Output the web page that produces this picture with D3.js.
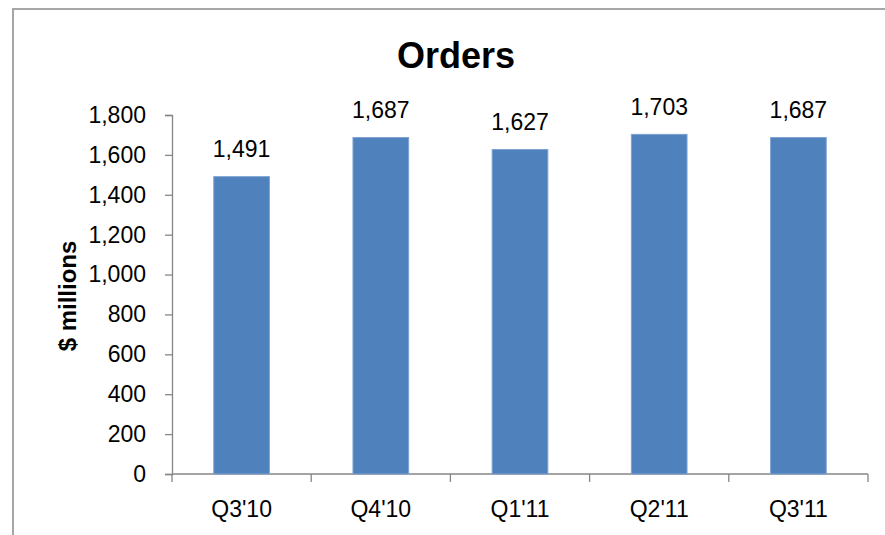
<!DOCTYPE html>
<html>
<head>
<meta charset="utf-8">
<script src="https://cdn.jsdelivr.net/npm/d3@7"></script>
<style>
  html, body { margin: 0; padding: 0; background: #fff; }
  svg { display: block; font-family: "Liberation Sans", Arial, sans-serif; }
</style>
</head>
<body>
<div id="chart"></div>
<script>
// Orders by quarter, $ millions
const quarters = ["Q3'10", "Q4'10", "Q1'11", "Q2'11", "Q3'11"];
const orders = [1491, 1687, 1627, 1703, 1687];
const yTicks = [0, 200, 400, 600, 800, 1000, 1200, 1400, 1600, 1800];

const width = 885, height = 535;
const plot = { left: 172, right: 868, top: 115, bottom: 474 };

const svg = d3.select("#chart").append("svg")
  .attr("width", width)
  .attr("height", height);

// chart frame (runs off the right and bottom edge)
svg.append("rect")
  .attr("x", 13)
  .attr("y", 9)
  .attr("width", 900)
  .attr("height", 560)
  .attr("fill", "none")
  .attr("stroke", "#a6a6a6")
  .attr("stroke-width", 2);

const x = d3.scaleBand()
  .domain(quarters)
  .range([plot.left, plot.right])
  .paddingInner(0.6)
  .paddingOuter(0.3);

const y = d3.scaleLinear()
  .domain([0, 1800])
  .range([plot.bottom, plot.top]);

// title
svg.append("text")
  .attr("x", 456)
  .attr("y", 68)
  .attr("text-anchor", "middle")
  .attr("font-size", "36px")
  .attr("font-weight", "bold")
  .text("Orders");

// y axis title
svg.append("text")
  .attr("transform", "translate(76,296) rotate(-90)")
  .attr("text-anchor", "middle")
  .attr("font-size", "24px")
  .attr("font-weight", "bold")
  .text("$ millions");

// y axis
const yAxis = svg.append("g")
  .attr("transform", `translate(${plot.left},0)`)
  .call(d3.axisLeft(y).tickValues(yTicks).tickSize(7).tickPadding(19)
    .tickFormat(d3.format(",")));
yAxis.select(".domain").attr("stroke", "#868686").attr("stroke-width", 1.3);
yAxis.selectAll(".tick line").attr("stroke", "#868686").attr("stroke-width", 1.3);
yAxis.selectAll(".tick text")
  .attr("font-size", "23px")
  .attr("fill", "#000")
  .attr("font-family", "Liberation Sans, Arial, sans-serif");

// x axis with ticks between categories
const xAxisG = svg.append("g");
xAxisG.append("line")
  .attr("x1", plot.left).attr("x2", plot.right)
  .attr("y1", plot.bottom).attr("y2", plot.bottom)
  .attr("stroke", "#868686").attr("stroke-width", 1.3);
const step = x.step();
const bounds = d3.range(quarters.length + 1).map(i => plot.left + i * step);
xAxisG.selectAll("line.tick")
  .data(bounds)
  .join("line")
  .attr("class", "tick")
  .attr("x1", d => d).attr("x2", d => d)
  .attr("y1", plot.bottom).attr("y2", plot.bottom + 8)
  .attr("stroke", "#868686").attr("stroke-width", 1.3);
xAxisG.selectAll("text")
  .data(quarters)
  .join("text")
  .attr("x", d => x(d) + x.bandwidth() / 2)
  .attr("y", 517)
  .attr("text-anchor", "middle")
  .attr("font-size", "23px")
  .text(d => d);

// bars
svg.selectAll("rect.bar")
  .data(orders)
  .join("rect")
  .attr("class", "bar")
  .attr("x", (d, i) => x(quarters[i]))
  .attr("y", d => y(d))
  .attr("width", x.bandwidth())
  .attr("height", d => y(0) - y(d))
  .attr("fill", "#4f81bd")
  .attr("stroke", "#7ea3d3")
  .attr("stroke-width", 1);

// value labels
svg.selectAll("text.val")
  .data(orders)
  .join("text")
  .attr("class", "val")
  .attr("x", (d, i) => x(quarters[i]) + x.bandwidth() / 2)
  .attr("y", d => y(d) - 19.5)
  .attr("text-anchor", "middle")
  .attr("font-size", "23px")
  .text(d => d3.format(",")(d));
</script>
</body>
</html>
